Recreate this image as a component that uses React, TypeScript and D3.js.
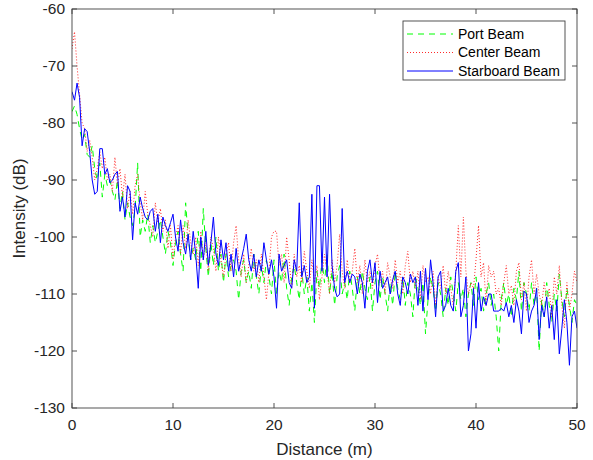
import React from "react";
import * as d3 from "d3";

// sampling grid: one sample every 0.25 m from 0 to 50 m
const distance = d3.range(0, 201).map((i) => i * 0.25);

// Port Beam (green, dashed)
const portBeam = [
  -78, -77, -78.5, -81, -83, -82, -85.5, -86, -84, -88, -90, -87, -93, -89, -91, -90,
  -92, -93.5, -90, -95, -92, -97, -94, -96.5, -98, -95, -87, -100, -97, -99, -96, -101,
  -98, -101, -99, -97, -100, -103, -99, -101, -105, -101, -99, -103, -106, -94, -100, -104,
  -102, -104, -99, -106, -95, -102, -107, -101, -105, -100, -106, -103, -108, -103, -107, -105,
  -104, -106, -111, -106, -104, -108, -106, -109, -103, -107, -110, -105, -108, -104, -107, -110,
  -104, -110, -106, -108, -103, -109, -112, -107, -105, -108, -111, -106, -110, -107, -113, -108,
  -115, -106, -109, -104, -108, -103, -110, -106, -112, -107, -105, -110, -108, -111, -106, -109,
  -113, -107, -110, -106, -109, -111, -107, -113, -108, -106, -111, -107, -110, -113, -108, -112,
  -106, -109, -111, -107, -112, -108, -110, -114, -107, -109, -112, -108, -117, -111, -107, -109,
  -113, -108, -110, -114, -109, -112, -107, -110, -113, -108, -111, -109, -114, -110, -108, -112,
  -107, -111, -109, -113, -110, -108, -112, -110, -114, -120, -111, -108, -112, -110, -114, -109,
  -111, -106, -113, -108, -110, -113, -108, -112, -109, -120, -111, -114, -108, -112, -115, -110,
  -113, -106.5, -111, -114, -109, -112, -115, -111, -112,
];

// Center Beam (red, dotted)
const centerBeam = [
  -67, -64, -70, -75, -80, -81, -85, -83, -86, -90, -88, -85, -88, -86, -90, -89,
  -92, -86, -91, -88, -93, -89, -95, -92, -96, -91, -89, -94, -97, -92, -96, -98,
  -100, -94, -97.5, -95, -99, -97, -102, -98, -104, -100, -98, -103, -98, -102, -97, -101,
  -103, -100, -105, -99, -104, -101, -106, -100, -102, -106, -100, -104, -107, -103, -101, -106,
  -101, -98, -104, -107, -103, -108, -105, -102, -106, -104, -108, -103, -107, -111, -106, -100,
  -99, -99, -105, -103, -108, -100, -104, -109, -103, -107, -105, -108, -102.5, -106, -109, -104,
  -108, -105, -111, -107, -103, -106, -110, -104, -108, -105, -99.5, -106, -109, -104, -108, -106,
  -102, -108, -105, -110, -104, -108, -106, -109, -105, -103, -108, -106, -110, -104.5, -107, -109,
  -104, -108, -106, -110, -105, -102.5, -108, -106, -109, -106, -111, -105, -108, -107, -110, -106,
  -112, -107, -109, -105, -110, -106, -109, -112, -106, -98, -107, -96.5, -106, -110, -108, -109,
  -104, -98, -107, -104.5, -112, -105, -107, -106, -110, -109, -112, -108, -105, -110, -108.5, -112,
  -106, -104.5, -111, -108, -113, -107, -104, -110, -106.5, -110, -112, -108, -111, -109, -114, -107,
  -110, -105, -112, -116, -108, -113, -110, -106, -108,
];

// Starboard Beam (blue, solid)
const starboardBeam = [
  -74.5, -76, -73, -75.5, -84, -81, -81.5, -85, -90, -92.5, -92, -84.5, -84.5, -89, -88, -90.5,
  -90, -89, -88.5, -95.5, -93, -96.5, -91, -92, -100.5, -94, -96, -93, -95, -96.5, -97, -95.5,
  -95, -99, -96, -101, -96.5, -98, -99, -97.5, -96, -100, -102.5, -97, -101, -103, -99.5, -104,
  -99, -103, -109, -100, -104, -99, -105, -101, -96.5, -103, -105, -100.5, -104, -101, -106, -103,
  -107, -102, -106, -104, -102, -99.5, -104, -106, -103, -107, -104, -106, -101, -104, -106.5, -104,
  -107, -112.5, -103, -106, -105, -104, -108, -109, -104, -106, -94, -107, -105, -108, -107, -92.5,
  -112.5, -91, -91, -106, -93, -107, -92.5, -105, -109, -110.5, -110, -95, -108, -106, -108, -106.5,
  -107, -110, -106.5, -108, -112.5, -106, -104, -108, -104.5, -111.5, -106, -109, -108, -107, -110, -107.5,
  -106, -110, -112, -107, -108, -110, -106.5, -108, -107, -112, -106, -113, -105.5, -111, -104, -108,
  -114, -107, -106, -113, -112, -109, -112, -113, -106, -104.5, -114, -112, -107, -120, -117, -109,
  -116, -108, -113, -110.5, -112, -110, -110, -113, -113, -113, -112.5, -113, -111.5, -114, -112, -115,
  -111, -113, -117, -109.5, -110, -115, -113, -112, -109, -118, -112, -114, -110.5, -116, -112, -118,
  -111, -120.5, -116, -111, -115, -122.5, -114, -113, -116,
];

const series = [
  { name: "Port Beam", values: portBeam, color: "#00ff00", dash: "6 5", width: 1 },
  { name: "Center Beam", values: centerBeam, color: "#ff2a2a", dash: "1 2", width: 1 },
  { name: "Starboard Beam", values: starboardBeam, color: "#0000ff", dash: "none", width: 1 },
];

const xTicks = [0, 10, 20, 30, 40, 50];
const yTicks = [-130, -120, -110, -100, -90, -80, -70, -60];

const W = 593;
const H = 460;
const margin = { top: 9, right: 16, bottom: 52, left: 72 };
const font = "'Liberation Sans', Arial, Helvetica, sans-serif";
const axisColor = "#404040";

export default function App() {
  const x = d3.scaleLinear().domain([0, 50]).range([margin.left, W - margin.right]);
  const y = d3.scaleLinear().domain([-130, -60]).range([H - margin.bottom, margin.top]);
  const line = d3
    .line<number>()
    .x((_, i) => x(distance[i]))
    .y((d) => y(d));

  const x0 = x(0), x1 = x(50), y0 = y(-130), y1 = y(-60);
  const tick = 5;

  // legend box
  const lg = { x: 403, y: 21, w: 162, h: 59 };

  return (
    <svg
      width={W}
      height={H}
      style={{ position: "absolute", left: 0, top: 0, background: "#fff" }}
      fontFamily={font}
    >
      <rect x={0} y={0} width={W} height={H} fill="#fff" />
      <g clipPath="url(#plot)">
        <defs>
          <clipPath id="plot">
            <rect x={x0} y={y1} width={x1 - x0} height={y0 - y1} />
          </clipPath>
        </defs>
        {series.map((s) => (
          <path
            key={s.name}
            d={line(s.values) || ""}
            fill="none"
            stroke={s.color}
            strokeWidth={s.width}
            strokeDasharray={s.dash}
            strokeLinejoin="round"
          />
        ))}
      </g>

      {/* axes box */}
      <rect x={x0} y={y1} width={x1 - x0} height={y0 - y1} fill="none" stroke={axisColor} strokeWidth={0.9} />

      {xTicks.map((t) => (
        <g key={"x" + t}>
          <line x1={x(t)} x2={x(t)} y1={y0} y2={y0 - tick} stroke={axisColor} strokeWidth={0.9} />
          <line x1={x(t)} x2={x(t)} y1={y1} y2={y1 + tick} stroke={axisColor} strokeWidth={0.9} />
          <text x={x(t)} y={y0 + 22} textAnchor="middle" fontSize={15.5} fill="#262626">
            {t}
          </text>
        </g>
      ))}
      {yTicks.map((t) => (
        <g key={"y" + t}>
          <line x1={x0} x2={x0 + tick} y1={y(t)} y2={y(t)} stroke={axisColor} strokeWidth={0.9} />
          <line x1={x1} x2={x1 - tick} y1={y(t)} y2={y(t)} stroke={axisColor} strokeWidth={0.9} />
          <text x={x0 - 7} y={y(t)} dy="0.35em" textAnchor="end" fontSize={15.5} fill="#262626">
            {t}
          </text>
        </g>
      ))}

      <text x={(x0 + x1) / 2} y={H - 5} textAnchor="middle" fontSize={17} fill="#262626">
        Distance (m)
      </text>
      <text
        transform={`translate(25,${(y0 + y1) / 2}) rotate(-90)`}
        textAnchor="middle"
        fontSize={17}
        fill="#262626"
      >
        Intensity (dB)
      </text>

      {/* legend */}
      <rect x={lg.x} y={lg.y} width={lg.w} height={lg.h} fill="#fff" stroke={axisColor} strokeWidth={0.9} />
      {series.map((s, i) => {
        const ly = lg.y + 13 + i * 18.5;
        return (
          <g key={"lg" + s.name}>
            <line
              x1={lg.x + 4}
              x2={lg.x + 50}
              y1={ly}
              y2={ly}
              stroke={s.color}
              strokeWidth={s.width}
              strokeDasharray={s.dash}
            />
            <text x={lg.x + 55} y={ly} dy="0.35em" fontSize={14} fill="#000">
              {s.name}
            </text>
          </g>
        );
      })}
    </svg>
  );
}
